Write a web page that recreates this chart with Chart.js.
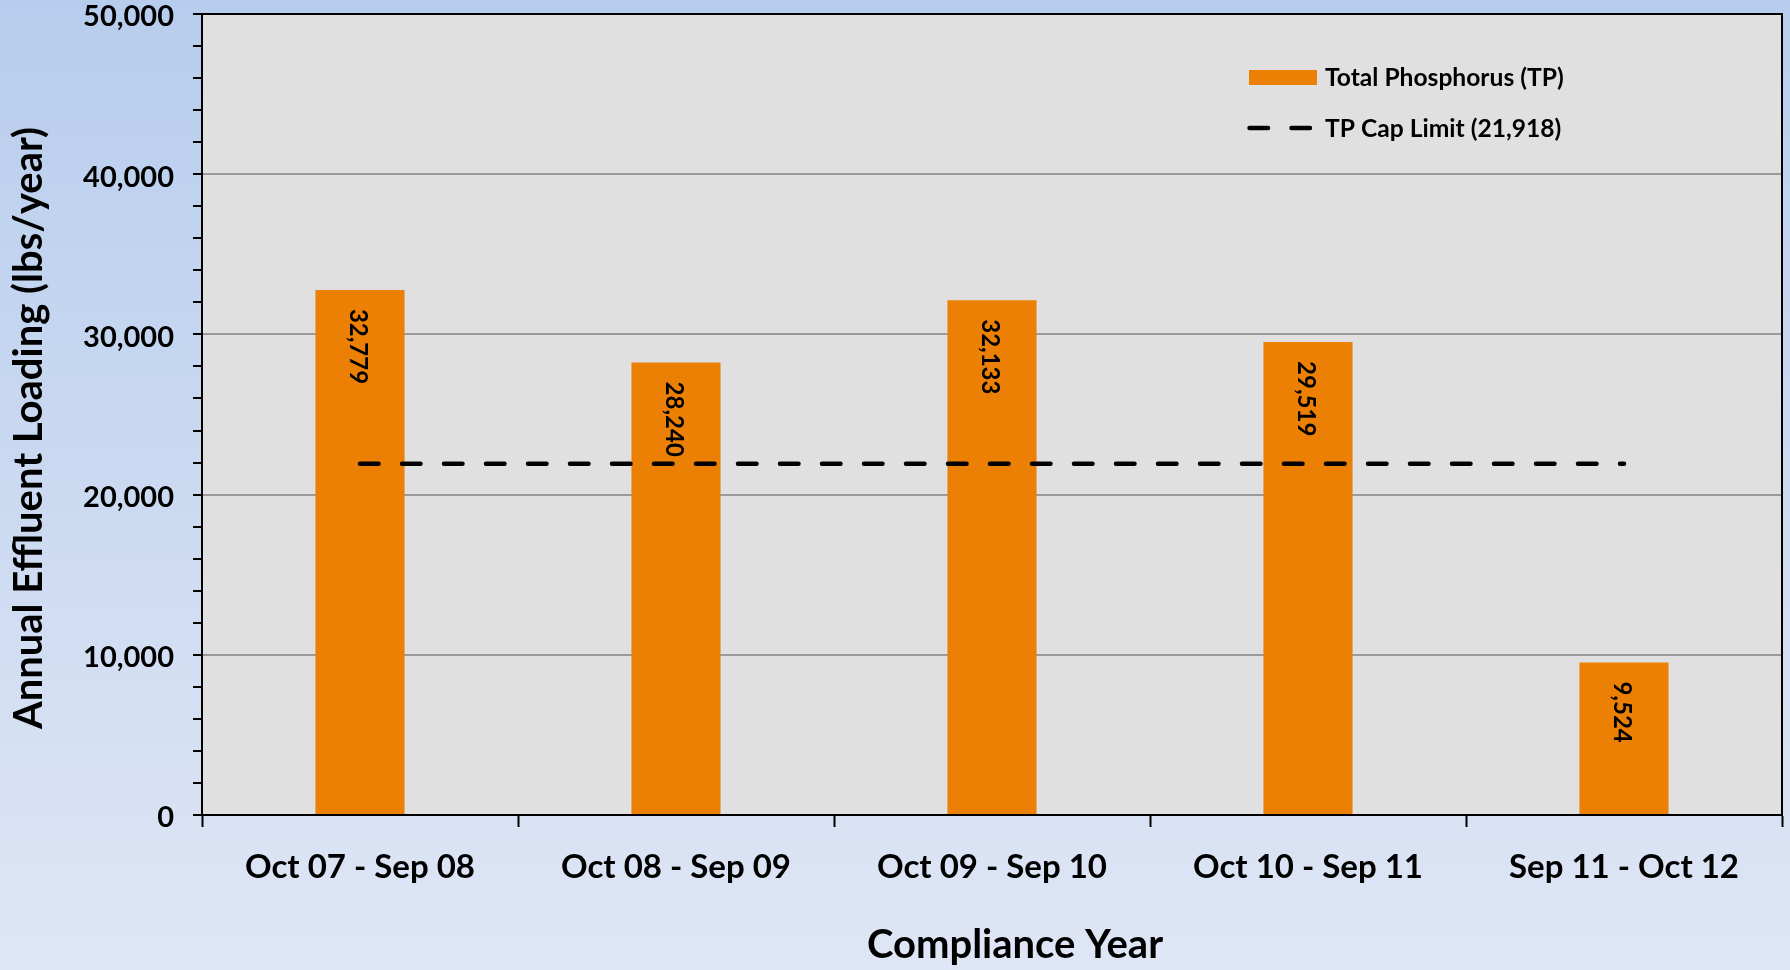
<!DOCTYPE html>
<html>
<head>
<meta charset="utf-8">
<script src="https://cdn.jsdelivr.net/npm/chart.js@4.4.1/dist/chart.umd.min.js"></script>
<style>
  html, body { margin: 0; padding: 0; overflow: hidden; background: #d0dcf0; }
  #wrap { width: 1790px; height: 970px; position: relative; }
</style>
</head>
<body>
<div id="wrap"><canvas id="c"></canvas></div>
<script>
const categories = ['Oct 07 - Sep 08', 'Oct 08 - Sep 09', 'Oct 09 - Sep 10', 'Oct 10 - Sep 11', 'Sep 11 - Oct 12'];
const tpValues = [32779, 28240, 32133, 29519, 9524];
const capLimit = [21918, 21918, 21918, 21918, 21918];
const yTickLabelsEvery = 10000;
const seriesNames = ['Total Phosphorus (TP)', 'TP Cap Limit (21,918)'];
const xTitle = 'Compliance Year';
const yTitle = 'Annual Effluent Loading (lbs/year)';

const FONT = 'Lato, "Open Sans", sans-serif';
const fmt = v => v.toLocaleString('en-US');

const decor = {
  id: 'decor',
  beforeDraw(chart) {
    const { ctx, width, height, chartArea: a } = chart;
    ctx.save();
    const g = ctx.createLinearGradient(0, 0, 0, height);
    g.addColorStop(0, 'rgb(183,205,237)');
    g.addColorStop(1, 'rgb(223,230,245)');
    ctx.fillStyle = g;
    ctx.fillRect(0, 0, width, height);
    ctx.fillStyle = '#e0e0e0';
    ctx.fillRect(a.left, a.top, a.right - a.left, a.bottom - a.top);
    ctx.restore();
  },
  afterDatasetsDraw(chart) {
    const { ctx } = chart;
    const meta = chart.getDatasetMeta(0);
    ctx.save();
    ctx.fillStyle = '#000';
    ctx.font = 'bold 24px ' + FONT;
    meta.data.forEach((bar, i) => {
      ctx.save();
      ctx.translate(bar.x - 2, bar.y + 19);
      ctx.rotate(Math.PI / 2);
      ctx.textAlign = 'left';
      ctx.textBaseline = 'middle';
      ctx.fillText(fmt(tpValues[i]), 0, 0);
      ctx.restore();
    });
    ctx.restore();
  },
  afterDraw(chart) {
    const { ctx, chartArea: a } = chart;
    ctx.save();
    ctx.strokeStyle = '#000';
    ctx.lineWidth = 2;
    ctx.beginPath();
    ctx.moveTo(a.left, a.top);
    ctx.lineTo(a.right, a.top);
    ctx.lineTo(a.right, a.bottom);
    ctx.stroke();

    // legend
    ctx.font = 'bold 24.6px ' + FONT;
    ctx.textBaseline = 'middle';
    ctx.textAlign = 'left';
    ctx.fillStyle = '#ec8004';
    ctx.fillRect(1249, 70, 68, 15);
    ctx.fillStyle = '#000';
    ctx.fillText(seriesNames[0], 1325, 78);
    ctx.strokeStyle = '#000';
    ctx.lineWidth = 4.5;
    ctx.lineCap = 'round';
    ctx.setLineDash([18.5, 23.5]);
    ctx.beginPath();
    ctx.moveTo(1249.5, 128);
    ctx.lineTo(1310, 128);
    ctx.stroke();
    ctx.setLineDash([]);
    ctx.fillText(seriesNames[1], 1325, 129);

    // axis titles
    ctx.font = 'bold 40px ' + FONT;
    ctx.textAlign = 'center';
    ctx.fillText(xTitle, 1015, 945);
    ctx.translate(29, 428);
    ctx.rotate(-Math.PI / 2);
    ctx.fillText(yTitle, 0, 0);
    ctx.restore();
  }
};

new Chart(document.getElementById('c'), {
  type: 'bar',
  data: {
    labels: categories,
    datasets: [
      {
        type: 'bar',
        label: seriesNames[0],
        data: tpValues,
        backgroundColor: '#ec8004',
        borderWidth: 0,
        categoryPercentage: 1,
        barPercentage: 0.282,
        order: 2
      },
      {
        type: 'line',
        label: seriesNames[1],
        data: capLimit,
        borderColor: '#000',
        borderWidth: 4.5,
        borderDash: [18.5, 23.5],
        borderCapStyle: 'round',
        pointRadius: 0,
        fill: false,
        tension: 0,
        order: 1
      }
    ]
  },
  options: {
    responsive: true,
    maintainAspectRatio: false,
    animation: false,
    layout: { padding: { left: 0, top: 14, right: 8, bottom: 0 } },
    plugins: {
      legend: { display: false },
      tooltip: { enabled: false },
      title: { display: false }
    },
    scales: {
      x: {
        offset: true,
        grid: {
          offset: true,
          drawOnChartArea: false,
          drawTicks: true,
          tickLength: 12,
          tickColor: '#000',
          tickWidth: 2
        },
        border: { display: true, color: '#000', width: 2 },
        ticks: {
          color: '#000',
          font: { family: FONT, size: 33, weight: 'bold', lineHeight: 1.0 },
          padding: 24,
          maxRotation: 0,
          autoSkip: false
        },
        afterFit(scale) { scale.height = 155; scale.paddingLeft = 0; scale.paddingRight = 0; }
      },
      y: {
        min: 0,
        max: 50000,
        grid: {
          color: ctx => (ctx.tick && ctx.tick.value % yTickLabelsEvery === 0) ? '#9a9a9a' : 'rgba(0,0,0,0)',
          lineWidth: 2,
          drawTicks: true,
          tickLength: 9,
          tickColor: '#000',
          tickWidth: 2
        },
        border: { display: true, color: '#000', width: 2 },
        ticks: {
          stepSize: 2000,
          autoSkip: false,
          color: '#000',
          padding: 19,
          labelOffset: 3,
          font: { family: FONT, size: 29, weight: 'bold', lineHeight: 1.0 },
          callback: v => (v % yTickLabelsEvery === 0) ? fmt(v) : ''
        },
        afterFit(scale) { scale.width = 202; scale.paddingTop = 0; scale.paddingBottom = 0; }
      }
    }
  },
  plugins: [decor]
});
</script>
</body>
</html>
